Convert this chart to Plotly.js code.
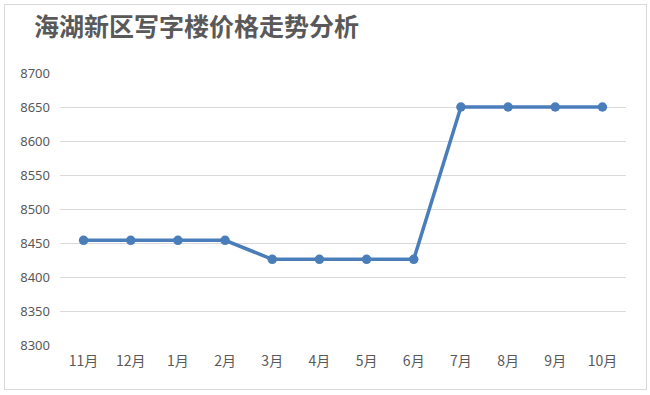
<!DOCTYPE html>
<html><head><meta charset="utf-8">
<script src="https://cdn.plot.ly/plotly-3.0.1.min.js"></script>
<style>html,body{margin:0;padding:0;background:#fff}
#wrap{position:absolute;left:0;top:0;width:650px;height:395px}
#frame{position:absolute;left:4px;top:4px;width:641px;height:384px;border:1px solid #d9d9d9;pointer-events:none}
#chart{width:650px;height:395px}</style>
</head><body>
<div id="wrap"><div id="chart"></div><div id="frame"></div></div>
<script>
const months = ['11月','12月','1月','2月','3月','4月','5月','6月','7月','8月','9月','10月'];
const prices = [8454,8454,8454,8454,8426,8426,8426,8426,8650,8650,8650,8650];
const yTicks = [8300,8350,8400,8450,8500,8550,8600,8650,8700];
const titleText = '海湖新区写字楼价格走势分析';

Plotly.newPlot('chart', [{
  x: months, y: prices, type: 'scatter', mode: 'lines+markers',
  line: {color: '#4a7ebb', width: 3.5},
  marker: {color: '#4a7ebb', size: 9.5},
  hoverinfo: 'none'
}], {
  width: 650, height: 395,
  margin: {l: 60, r: 24, t: 73, b: 50},
  paper_bgcolor: '#fff', plot_bgcolor: '#fff',
  showlegend: false,
  title: {text: '<b>' + titleText + '</b>', xref: 'container', xanchor: 'left', x: 34/650, y: 0.93, yref: 'container', yanchor: 'middle',
    font: {family: '"Noto Sans CJK SC", sans-serif', size: 25, color: '#595959'}},
  xaxis: {type: 'category', showgrid: false, zeroline: false, showline: false, ticks: '',
    ticklabelstandoff: 6,
    tickfont: {family: '"Noto Sans CJK SC", sans-serif', size: 14, color: '#595959'}, range: [-0.5, 11.5]},
  yaxis: {range: [8300, 8700], tickvals: yTicks, showgrid: true, gridcolor: '#d9d9d9', gridwidth: 1,
    zeroline: false, showline: false, ticks: '', ticklen: 0, ticklabelstandoff: 9,
    tickfont: {family: '"Liberation Sans Narrow", "Noto Sans", sans-serif', size: 13, color: '#595959'}}
}, {displayModeBar: false, staticPlot: true});
</script>
</body></html>
